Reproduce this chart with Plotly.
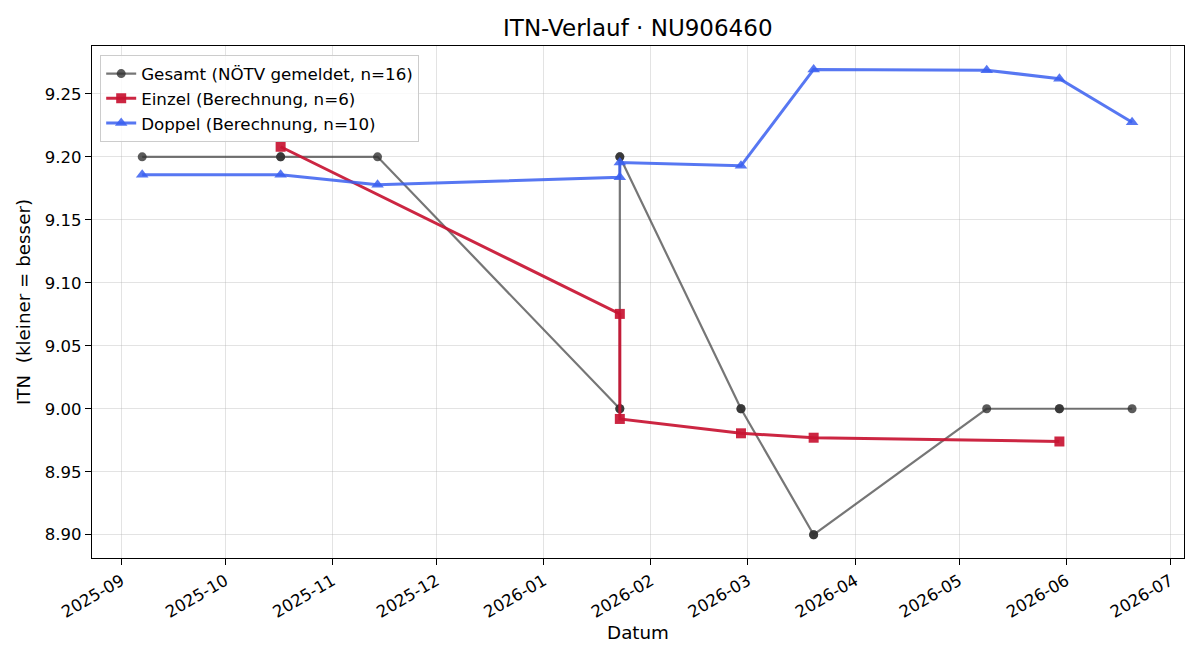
import plotly.graph_objects as go

# ---- data ----
gesamt_dates = ["2025-09-07", "2025-10-17", "2025-10-17", "2025-11-14",
                "2026-01-23", "2026-01-23", "2026-01-23", "2026-01-23",
                "2026-02-27", "2026-02-27", "2026-03-20", "2026-03-20",
                "2026-05-09", "2026-05-30", "2026-05-30", "2026-06-20"]
gesamt_itn = [9.2, 9.2, 9.2, 9.2,
              9.0, 9.0, 9.2, 9.2,
              9.0, 9.0, 8.9, 8.9,
              9.0, 9.0, 9.0, 9.0]

einzel_dates = ["2025-10-17", "2026-01-23", "2026-01-23", "2026-02-27",
                "2026-03-20", "2026-05-30"]
einzel_itn = [9.208, 9.0753, 8.9919, 8.9805, 8.977, 8.974]

doppel_dates = ["2025-09-07", "2025-10-17", "2025-11-14", "2026-01-23",
                "2026-01-23", "2026-02-27", "2026-03-20", "2026-05-09",
                "2026-05-30", "2026-06-20"]
doppel_itn = [9.1857, 9.1857, 9.1778, 9.1838, 9.1955, 9.1929, 9.2694,
              9.2688, 9.262, 9.2274]

y_ticks = [8.90, 8.95, 9.00, 9.05, 9.10, 9.15, 9.20, 9.25]
x_ticks = ["2025-09-01", "2025-10-01", "2025-11-01", "2025-12-01",
           "2026-01-01", "2026-02-01", "2026-03-01", "2026-04-01",
           "2026-05-01", "2026-06-01", "2026-07-01"]

FONT = "DejaVu Sans"

fig = go.Figure()
fig.add_trace(go.Scatter(
    x=gesamt_dates, y=gesamt_itn, mode="lines+markers",
    name="Gesamt (NÖTV gemeldet, n=16)",
    line=dict(color="rgba(60,60,60,0.7)", width=2.2),
    marker=dict(symbol="circle", size=9, color="rgba(50,50,50,0.8)",
                line=dict(width=0)),
))
fig.add_trace(go.Scatter(
    x=einzel_dates, y=einzel_itn, mode="lines+markers",
    name="Einzel (Berechnung, n=6)",
    line=dict(color="rgba(200,20,50,0.92)", width=3),
    marker=dict(symbol="square", size=10, color="rgba(200,20,50,0.92)",
                line=dict(width=0)),
))
fig.add_trace(go.Scatter(
    x=doppel_dates, y=doppel_itn, mode="lines+markers",
    name="Doppel (Berechnung, n=10)",
    line=dict(color="rgba(58,95,240,0.85)", width=3),
    marker=dict(symbol="triangle-up", size=11, color="rgba(58,95,240,0.85)",
                line=dict(width=0)),
))

axis_common = dict(
    showline=True, linecolor="black", linewidth=1.3, mirror=True,
    ticks="outside", ticklen=6, tickwidth=1.3, tickcolor="black",
    showgrid=True, gridcolor="rgba(176,176,176,0.35)", gridwidth=1,
    zeroline=False,
    tickfont=dict(family=FONT, size=16.5, color="black"),
)

fig.update_layout(
    width=1200, height=660,
    margin=dict(l=92, r=16, t=46, b=102),
    paper_bgcolor="white", plot_bgcolor="white",
    font=dict(family=FONT, color="black"),
    title=dict(text="ITN-Verlauf · NU906460", x=0.5315, xanchor="center",
               y=0.957, yanchor="middle",
               font=dict(family=FONT, size=23, color="black")),
    xaxis=dict(
        **axis_common,
        type="date",
        range=["2025-08-23 12:00", "2026-07-05"],
        tickvals=x_ticks, tickformat="%Y-%m", tickangle=-30,
        title=dict(text="Datum", font=dict(family=FONT, size=18.3),
                   standoff=5),
    ),
    yaxis=dict(
        **axis_common,
        range=[8.8815, 9.288],
        tickvals=y_ticks, tickformat=".2f",
        title=dict(text="ITN  (kleiner = besser)",
                   font=dict(family=FONT, size=18.3), standoff=9),
    ),
    legend=dict(
        x=0.0075, y=0.982, xanchor="left", yanchor="top",
        bgcolor="rgba(255,255,255,0.8)", bordercolor="#cccccc", borderwidth=1,
        font=dict(family=FONT, size=16.7, color="black"),
        tracegroupgap=0, itemwidth=30,
    ),
    showlegend=True,
)

fig.write_html("out.html")
